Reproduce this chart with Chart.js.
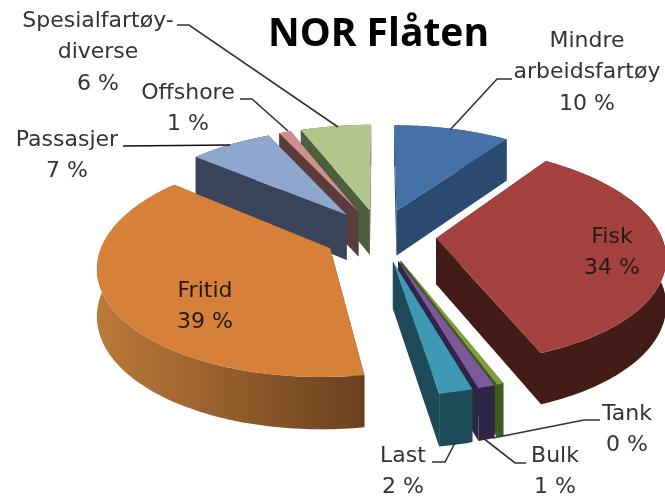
<!DOCTYPE html>
<html lang="no">
<head>
<meta charset="utf-8">
<title>NOR Flåten</title>
<script src="https://cdn.jsdelivr.net/npm/chart.js@4/dist/chart.umd.min.js"></script>
<style>
    html, body { margin: 0; padding: 0; background: #fff; }
    canvas { display: block; filter: blur(0.5px); }
</style>
</head>
<body>
<canvas id="chartPizza" width="665" height="499"></canvas>
<script>
// Data (Tank prints as 0 % but still has a thin slice)
const categories = ['Mindre\narbeidsfartøy', 'Fisk', 'Tank', 'Bulk', 'Last', 'Fritid', 'Passasjer', 'Offshore', 'Spesialfartøy-\ndiverse'];
const values = [9.8, 34.4, 0.4, 1, 2, 38.7, 7, 1, 6];

// Colours per slice
const topColors = ['#4472a6', '#a5423f', '#7f9f3e', '#7b5a9b', '#3f98b4', '#d6803a', '#8fa6cd', '#d08f8e', '#b3c78d'];
const wallColors = [
    ['#2b4a70', '#2b4a70'], ['#431c18', '#431c18'], ['#3e5a1e', '#3e5a1e'],
    ['#2f2545', '#2f2545'], ['#1c4a57', '#1c4a57'], ['#bb7a38', '#6a4120'],
    ['#39435a', '#39435a'], ['#5a3c3c', '#5a3c3c'], ['#4e5f3e', '#4e5f3e']
];

// Back to front, so nearer slices cover the walls behind them
const drawOrder = [8, 7, 6, 0, 1, 2, 3, 4, 5];

// Label placement: centre x and first line y, same order as categories
const labelX = [587, 612, 627, 555, 403, 205, 67, 188, 98];
const labelY = [41, 237, 414, 456, 456, 291, 140, 93, 21];

// Leader lines
const leaders = [
    [[512, 79], [497, 79], [450, 130]],
    null,
    [[600, 420], [584, 420], [493, 438]],
    [[526, 463], [515, 463], [483, 438]],
    [[432, 462], [445, 462], [455, 443]],
    null,
    [[123, 146], [230, 145]],
    [[240, 99], [252, 99], [288, 131]],
    [[177, 25], [189, 25], [338, 127]]
];

// View of the tilted pie
const VIEW = { cx: 380, cy: 235, rx: 225, ry: 105, persp: 0.15, explode: 0.25, depth: 46 };

function project(px, pz) {
    const w = 1 + VIEW.persp * pz;
    return {
        x: VIEW.cx + VIEW.rx * px / w,
        y: VIEW.cy - VIEW.ry * pz / w,
        drop: VIEW.depth / Math.pow(w, 0.7)
    };
}

function fillPoly(ctx, pts, style) {
    ctx.beginPath();
    pts.forEach((p, i) => i ? ctx.lineTo(p.x, p.y) : ctx.moveTo(p.x, p.y));
    ctx.closePath();
    ctx.fillStyle = style;
    ctx.fill();
}

// One slice: cut faces, rim, then the top. Angles come from the arc element.
function drawSlice(ctx, arc, index) {
    const { startAngle, endAngle } = arc.getProps(['startAngle', 'endAngle'], true);
    const mid = (startAngle + endAngle) / 2;
    const ox = VIEW.explode * Math.cos(mid);
    const oz = -VIEW.explode * Math.sin(mid);
    const steps = Math.max(2, Math.ceil((endAngle - startAngle) / 0.02));

    const apex = project(ox, oz);
    const rim = [];
    for (let i = 0; i <= steps; i++) {
        const a = startAngle + (endAngle - startAngle) * i / steps;
        rim.push(project(ox + Math.cos(a), oz - Math.sin(a)));
    }
    const down = (p) => ({ x: p.x, y: p.y + p.drop });
    const [wallLeft, wallRight] = wallColors[index];

    // cut faces
    [rim[0], rim[rim.length - 1]].forEach((corner) => {
        fillPoly(ctx, [apex, corner, down(corner), down(apex)], wallRight);
    });

    // rim, shaded from left to right
    const xs = rim.map(p => p.x);
    const grad = ctx.createLinearGradient(Math.min(...xs), 0, Math.max(...xs), 0);
    grad.addColorStop(0, wallLeft);
    grad.addColorStop(1, wallRight);
    fillPoly(ctx, rim.concat(rim.map(down).reverse()), grad);

    fillPoly(ctx, [apex].concat(rim), topColors[index]);
}

const pie3d = {
    id: 'pie3d',
    beforeDatasetDraw(chart) {
        const arcs = chart.getDatasetMeta(0).data;
        drawOrder.forEach(i => drawSlice(chart.ctx, arcs[i], i));
        return false;
    },
    afterDraw(chart) {
        const ctx = chart.ctx;
        ctx.save();

        // leader lines
        leaders.forEach((line, i) => {
            if (!line) return;
            ctx.beginPath();
            line.forEach((p, j) => j ? ctx.lineTo(p[0], p[1]) : ctx.moveTo(p[0], p[1]));
            ctx.strokeStyle = i === 6 ? '#111' : '#333';
            ctx.lineWidth = 1.6;
            ctx.stroke();
        });

        // category name and percentage
        ctx.font = '22px "DejaVu Sans"';
        ctx.textAlign = 'center';
        ctx.textBaseline = 'middle';
        categories.forEach((name, i) => {
            // labels sitting on a slice are darker
            ctx.fillStyle = (i === 1 || i === 5) ? '#221a14' : '#333';
            const lines = name.split('\n').concat(Math.round(values[i]) + ' %');
            lines.forEach((txt, j) => ctx.fillText(txt, labelX[i], labelY[i] + j * 31.5));
        });
        ctx.restore();
    }
};

new Chart(document.getElementById('chartPizza'), {
    type: 'pie',
    data: {
        labels: categories,
        datasets: [{ data: values, backgroundColor: topColors, borderWidth: 0 }]
    },
    options: {
        responsive: false,
        animation: false,
        layout: { padding: { left: 92 } },
        plugins: {
            legend: { display: false },
            tooltip: { enabled: false },
            title: {
                display: true,
                text: 'NOR Flåten',
                color: '#000',
                font: { family: '"Open Sans"', size: 39, weight: 'bold' },
                padding: { top: 11, bottom: 6 }
            }
        }
    },
    plugins: [pie3d]
});
</script>
</body>
</html>
